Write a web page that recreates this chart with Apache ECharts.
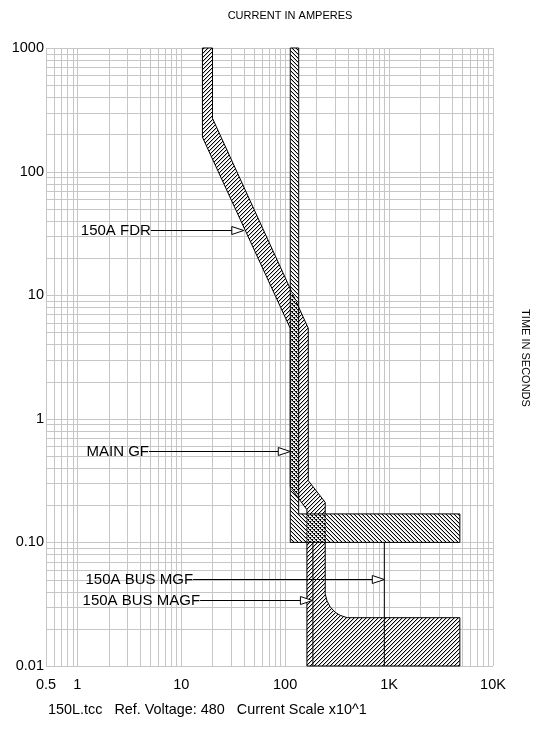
<!DOCTYPE html>
<html>
<head>
<meta charset="utf-8">
<script src="https://cdn.jsdelivr.net/npm/echarts@6/dist/echarts.min.js"></script>
<style>
html,body{margin:0;padding:0;background:#fff;}
#chart{width:540px;height:730px;}
</style>
</head>
<body>
<div id="chart"></div>
<script>
// ---------- axis ticks ----------
const xTickValues = [0.5, 1, 10, 100, 1000, 10000];
const xTickLabels = ['0.5', '1', '10', '100', '1K', '10K'];
const yTickValues = [0.01, 0.1, 1, 10, 100, 1000];
const yTickLabels = ['0.01', '0.10', '1', '10', '100', '1000'];

// ---------- grid structure (log decades x mantissas) ----------
const gridMantissas = [1, 2, 3, 4, 5, 6, 7, 8, 9];
const xGridDecades = [0.1, 1, 10, 100, 1000, 10000];
const yGridDecades = [0.01, 0.1, 1, 10, 100, 1000];

// ---------- curves: [amperes, seconds] ----------
const fdrLeftEdge  = [[16, 1000], [16, 190], [112, 5.4], [112, 0.28], [162, 0.184], [162, 0.01]];
const fdrRightEdge = [[20, 1000], [20, 270], [167, 5.4], [167, 0.316], [243, 0.211], [243, 0.0384],
                      [253, 0.0336], [271, 0.0301], [303, 0.0272], [338, 0.0257], [395, 0.0246],
                      [4800, 0.0246], [4800, 0.01]];
const mainGfLeftEdge  = [[112, 1000], [112, 0.1], [4800, 0.1]];
const mainGfRightEdge = [[135, 1000], [135, 0.17], [4800, 0.17]];
const busMgfLine  = [[900, 0.1], [900, 0.01]];
const busMagfLine = [[185, 0.1], [185, 0.01]];

// ---------- annotations ----------
const arrowLabels    = ['150A FDR', 'MAIN GF', '150A BUS MGF', '150A BUS MAGF'];
const arrowTimes     = [34, 0.55, 0.051, 0.034];
const arrowFromAmps  = [5.1, 4.9, 13.0, 15.2];
const arrowToAmps    = [40, 112, 900, 183];

const FONT = '"Liberation Sans", Arial, Helvetica, sans-serif';

function buildGrid(decades, lo, hi) {
  const out = [];
  decades.forEach(d => gridMantissas.forEach(m => {
    const v = d * m;
    if (v >= lo * 0.999 && v <= hi * 1.001) out.push(v);
  }));
  return out;
}
const xGridLines = buildGrid(xGridDecades, 0.5, 10000);
const yGridLines = buildGrid(yGridDecades, 0.01, 1000);

function makeHatch(forward) {
  const c = document.createElement('canvas');
  c.width = 4; c.height = 4;
  const ctx = c.getContext('2d');
  for (let i = 0; i < 4; i++) {
    const y = forward ? 3 - i : i;
    ctx.fillStyle = '#000';
    ctx.fillRect(i, y, 1, 1);
    ctx.fillStyle = '#c4c4c4';
    ctx.fillRect(i, (y + 1) % 4, 1, 1);
  }
  return c;
}
const hatchFwd = makeHatch(true);
const hatchBack = makeHatch(false);

const bands = [
  { left: fdrLeftEdge, right: fdrRightEdge },
  { left: mainGfLeftEdge, right: mainGfRightEdge }
];
const bandHatch = [hatchFwd, hatchBack];

function tickLabel(values, labels) {
  return function (v) {
    for (let i = 0; i < values.length; i++) {
      if (Math.abs(Math.log10(v) - Math.log10(values[i])) < 0.005) return labels[i];
    }
    return '';
  };
}

function bandPolygon(i, api) {
  const b = bands[i];
  const pts = b.left.concat(b.right.slice().reverse());
  return pts.map(p => api.coord(p));
}

const chart = echarts.init(document.getElementById('chart'), null, { renderer: 'canvas' });
const option = {
  animation: false,
  backgroundColor: '#fff',
  grid: { left: 46, right: 47, top: 48, bottom: 64, containLabel: false },
  xAxis: {
    type: 'log', logBase: 10, min: 0.5, max: 10000,
    axisLine: { show: false }, axisTick: { show: false }, splitLine: { show: false },
    axisLabel: { formatter: tickLabel(xTickValues, xTickLabels), fontSize: 14.5, color: '#000',
                 fontFamily: FONT, margin: 11, showMinLabel: true, showMaxLabel: true }
  },
  yAxis: {
    type: 'log', logBase: 10, min: 0.01, max: 1000,
    axisLine: { show: false }, axisTick: { show: false }, splitLine: { show: false },
    axisLabel: { formatter: tickLabel(yTickValues, yTickLabels), fontSize: 14.5, color: '#000',
                 fontFamily: FONT, margin: 2, showMinLabel: true, showMaxLabel: true }
  },
  graphic: [
    { type: 'text', x: 290, y: 16, style: { text: 'CURRENT IN AMPERES', font: '11px ' + FONT, fill: '#000',
      align: 'center', verticalAlign: 'middle', textAlign: 'center', textVerticalAlign: 'middle' } },
    { type: 'text', x: 525, y: 358, rotation: -Math.PI / 2, style: { text: 'TIME IN SECONDS', font: '11px ' + FONT, fill: '#000',
      align: 'center', verticalAlign: 'middle', textAlign: 'center', textVerticalAlign: 'middle' } },
    { type: 'text', x: 48, y: 710, style: { text: '150L.tcc   Ref. Voltage: 480   Current Scale x10^1', font: '14.4px ' + FONT, fill: '#000',
      align: 'left', verticalAlign: 'middle', textAlign: 'left', textVerticalAlign: 'middle' } }
  ],
  series: [
    {
      type: 'custom', name: 'xgrid', silent: true, z: 1,
      data: xGridLines.map(v => [v, 1]),
      renderItem: function (params, api) {
        const v = api.value(0);
        const a = api.coord([v, 0.01]), b = api.coord([v, 1000]);
        const x = Math.round(a[0]) + 0.5;
        return { type: 'line', shape: { x1: x, y1: a[1], x2: x, y2: b[1] }, style: { stroke: '#c6c6c6', lineWidth: 1 } };
      }
    },
    {
      type: 'custom', name: 'ygrid', silent: true, z: 1,
      data: yGridLines.map(v => [1, v]),
      renderItem: function (params, api) {
        const v = api.value(1);
        const a = api.coord([0.5, v]), b = api.coord([10000, v]);
        const y = Math.round(a[1]) + 0.5;
        return { type: 'line', shape: { x1: a[0], y1: y, x2: b[0], y2: y }, style: { stroke: '#c6c6c6', lineWidth: 1 } };
      }
    },
    {
      type: 'custom', name: 'bandFill', silent: true, z: 2,
      data: bands.map((b, i) => [b.left[0][0], b.left[0][1]]),
      renderItem: function (params, api) {
        return { type: 'polygon', shape: { points: bandPolygon(params.dataIndex, api) }, style: { fill: '#fff' } };
      }
    },
    {
      type: 'custom', name: 'bandHatch', silent: true, z: 3,
      data: bands.map((b, i) => [b.left[0][0], b.left[0][1]]),
      renderItem: function (params, api) {
        return { type: 'polygon', shape: { points: bandPolygon(params.dataIndex, api) },
          style: { fill: { image: bandHatch[params.dataIndex], repeat: 'repeat' }, stroke: '#000', lineWidth: 1 } };
      }
    },
    {
      type: 'line', name: '150A BUS MGF', z: 4, data: busMgfLine, symbol: 'none',
      lineStyle: { color: '#000', width: 1 }, silent: true
    },
    {
      type: 'line', name: '150A BUS MAGF', z: 4, data: busMagfLine, symbol: 'none',
      lineStyle: { color: '#000', width: 1 }, silent: true
    },
    {
      type: 'custom', name: 'arrows', silent: true, z: 5,
      data: arrowLabels.map((t, i) => [arrowFromAmps[i], arrowTimes[i]]),
      renderItem: function (params, api) {
        const i = params.dataIndex;
        const p0 = api.coord([arrowFromAmps[i], arrowTimes[i]]);
        const p1 = api.coord([arrowToAmps[i], arrowTimes[i]]);
        const y = Math.round(p0[1]) + 0.5;
        const tip = p1[0];
        const head = 12, half = 4;
        return {
          type: 'group',
          children: [
            { type: 'line', shape: { x1: p0[0], y1: y, x2: tip - head, y2: y }, style: { stroke: '#000', lineWidth: 1 } },
            { type: 'polygon', shape: { points: [[tip - head, y - half], [tip, y], [tip - head, y + half]] },
              style: { fill: '#fff', stroke: '#000', lineWidth: 1 } },
            { type: 'text', x: p0[0], y: y, style: { text: arrowLabels[i], font: '15px ' + FONT, fill: '#000',
              align: 'right', verticalAlign: 'middle', textAlign: 'right', textVerticalAlign: 'middle' } }
          ]
        };
      }
    }
  ]
};
chart.setOption(option);
</script>
</body>
</html>
